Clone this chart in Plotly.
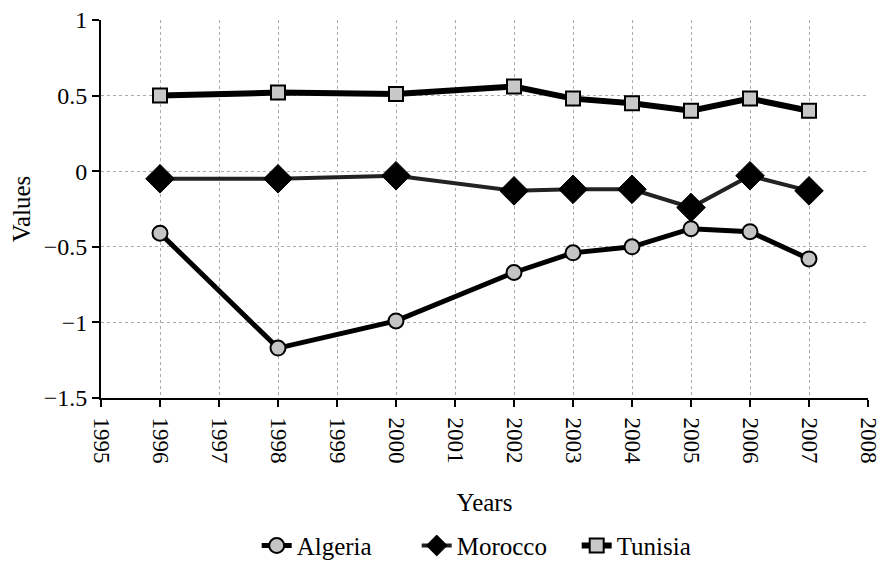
import plotly.graph_objects as go

years_axis = ["1995", "1996", "1997", "1998", "1999", "2000", "2001",
              "2002", "2003", "2004", "2005", "2006", "2007", "2008"]
years = ["1996", "1998", "2000", "2002", "2003", "2004", "2005", "2006", "2007"]
algeria = [-0.41, -1.17, -0.99, -0.67, -0.54, -0.50, -0.38, -0.40, -0.58]
morocco = [-0.05, -0.05, -0.03, -0.13, -0.12, -0.12, -0.24, -0.03, -0.13]
tunisia = [0.50, 0.52, 0.51, 0.56, 0.48, 0.45, 0.40, 0.48, 0.40]

FONT = "Liberation Serif"

fig = go.Figure()
fig.add_trace(go.Scatter(
    x=years, y=algeria, name="Algeria", mode="lines+markers",
    line=dict(color="black", width=5),
    marker=dict(symbol="circle", size=15, color="#c4c4c4",
                line=dict(color="black", width=2)),
))
fig.add_trace(go.Scatter(
    x=years, y=morocco, name="Morocco", mode="lines+markers",
    line=dict(color="#222222", width=4),
    marker=dict(symbol="diamond", size=22, color="black",
                line=dict(color="black", width=1)),
))
fig.add_trace(go.Scatter(
    x=years, y=tunisia, name="Tunisia", mode="lines+markers",
    line=dict(color="black", width=6),
    marker=dict(symbol="square", size=14, color="#c8c8c8",
                line=dict(color="black", width=2)),
))

fig.update_layout(
    width=880, height=562,
    paper_bgcolor="white", plot_bgcolor="white",
    margin=dict(l=101, r=12, t=20, b=164, autoexpand=False),
    font=dict(family=FONT, size=23, color="black"),
    legend=dict(orientation="h", x=0.203, xanchor="left", y=-0.33, yanchor="top",
                font=dict(family=FONT, size=25), itemwidth=30,
                entrywidth=115, entrywidthmode="pixels",
                traceorder="normal"),
    xaxis=dict(
        type="category", categoryorder="array", categoryarray=years_axis,
        range=[0, 13], tickmode="array", tickvals=years_axis, ticktext=years_axis,
        tickangle=90, ticks="outside", ticklen=7, tickwidth=2, tickcolor="black",
        ticklabelstandoff=6,
        showline=True, linecolor="black", linewidth=2,
        showgrid=True, gridcolor="#aaaaaa", gridwidth=1, griddash="dot",
        zeroline=False, automargin=False,
        title=dict(text="Years", font=dict(family=FONT, size=25), standoff=30),
        tickfont=dict(family=FONT, size=23),
    ),
    yaxis=dict(
        range=[-1.5, 1], tickvals=[-1.5, -1, -0.5, 0, 0.5, 1],
        ticktext=["\u22121.5", "\u22121", "\u22120.5", "0", "0.5", "1"],
        ticks="outside", ticklen=7, tickwidth=2, tickcolor="black",
        showline=True, linecolor="black", linewidth=2,
        showgrid=True, gridcolor="#aaaaaa", gridwidth=1, griddash="dot",
        zeroline=False, automargin=False,
        title=dict(text="Values", font=dict(family=FONT, size=25), standoff=6),
        tickfont=dict(family=FONT, size=24),
    ),
)

fig.write_html("out.html", post_script="document.body.style.margin='0';",
               config={"displayModeBar": False})
